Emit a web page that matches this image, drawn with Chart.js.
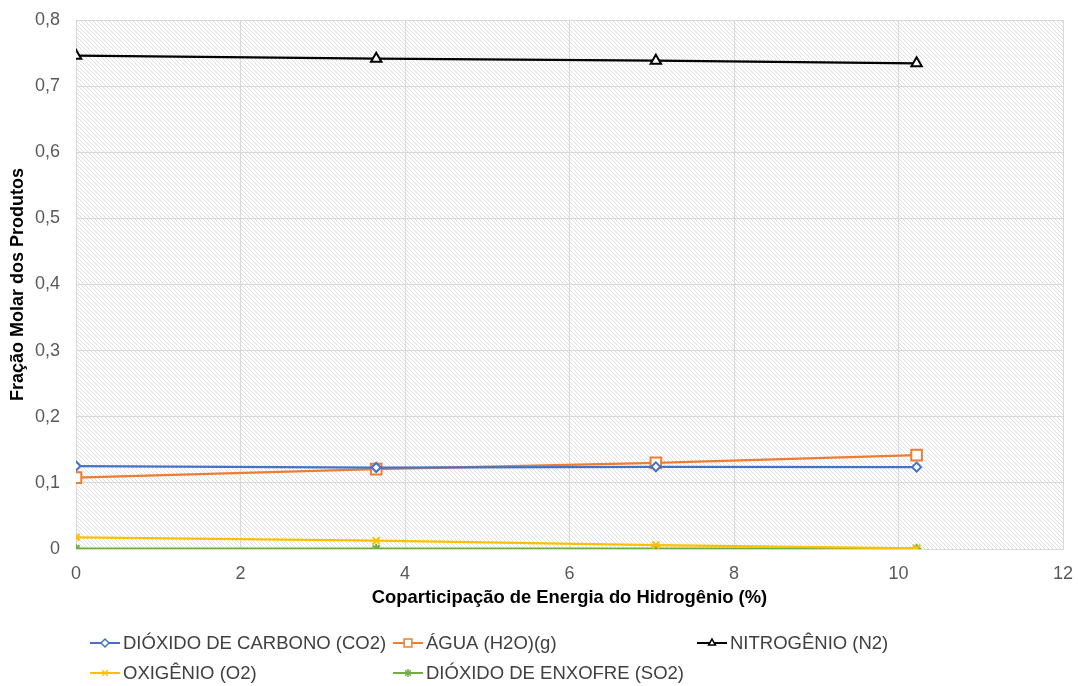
<!DOCTYPE html>
<html>
<head>
<meta charset="utf-8">
<style>
  html, body { margin: 0; padding: 0; background: #ffffff; }
  #wrap { width: 1078px; height: 686px; position: relative; }
</style>
<script src="https://cdn.jsdelivr.net/npm/chart.js@4/dist/chart.umd.min.js"></script>
</head>
<body>
<div id="wrap"><canvas id="chart" width="1078" height="686"></canvas></div>
<script>
// Hydrogen energy share (%) for each simulated case
const energyShare = [0, 3.65, 7.05, 10.22];

// Molar fraction of each combustion product
const seriesNames = [
  'DIÓXIDO DE CARBONO (CO2)',
  'ÁGUA (H2O)(g)',
  'NITROGÊNIO (N2)',
  'OXIGÊNIO (O2)',
  'DIÓXIDO DE ENXOFRE (SO2)'
];
const co2 = [0.1255, 0.1232, 0.1243, 0.1238];
const h2o = [0.1080, 0.1208, 0.1302, 0.1420];
const n2  = [0.7460, 0.7415, 0.7385, 0.7345];
const o2  = [0.0177, 0.0126, 0.0060, 0.0010];
const so2 = [0.0004, 0.0004, 0.0004, 0.0004];

const xTicks = [0, 2, 4, 6, 8, 10, 12];
const yTicks = [0, 0.1, 0.2, 0.3, 0.4, 0.5, 0.6, 0.7, 0.8];

const FONT = "'Liberation Sans', Arial, sans-serif";

function toPoints(values) {
  return values.map((v, i) => ({ x: energyShare[i], y: v }));
}

// light diagonal hatching for the plot background
function makeHatch(ctx) {
  const tile = document.createElement('canvas');
  tile.width = 4; tile.height = 4;
  const t = tile.getContext('2d');
  t.fillStyle = '#ffffff';
  t.fillRect(0, 0, 4, 4);
  t.strokeStyle = '#dedede';
  t.lineWidth = 1;
  t.beginPath();
  t.moveTo(-1, -1); t.lineTo(5, 5);
  t.moveTo(-1, 3); t.lineTo(1, 5);
  t.moveTo(3, -1); t.lineTo(5, 1);
  t.stroke();
  return ctx.createPattern(tile, 'repeat');
}

const hatchBackground = {
  id: 'hatchBackground',
  beforeDraw(chart) {
    const { ctx, chartArea: a } = chart;
    ctx.save();
    ctx.fillStyle = makeHatch(ctx);
    ctx.fillRect(a.left, a.top, a.right - a.left, a.bottom - a.top);
    ctx.restore();
  }
};

// legend laid out on a fixed grid: three columns, two rows
const gridLegend = {
  id: 'gridLegend',
  afterDraw(chart) {
    const { ctx } = chart;
    const cols = [90, 393, 697];
    const rows = [643, 673];
    const lineLen = 30;
    ctx.save();
    ctx.font = '18.5px ' + FONT;
    ctx.textBaseline = 'middle';
    ctx.textAlign = 'left';
    chart.data.datasets.forEach((ds, i) => {
      const x = cols[i % 3];
      const y = rows[Math.floor(i / 3)];
      ctx.strokeStyle = ds.borderColor;
      ctx.lineWidth = 2;
      ctx.beginPath();
      ctx.moveTo(x, y); ctx.lineTo(x + lineLen, y);
      ctx.stroke();
      ctx.fillStyle = '#ffffff';
      ctx.strokeStyle = ds.borderColor;
      ctx.lineWidth = 1.5;
      Chart.helpers.drawPoint(ctx, {
        pointStyle: ds.pointStyle,
        radius: ds.pointStyle === 'rect' ? 5.5 : 4,
        borderWidth: 1.5,
        rotation: 0
      }, x + lineLen / 2, y);
      ctx.fillStyle = '#404040';
      ctx.fillText(ds.label, x + lineLen + 3, y + 1);
    });
    ctx.restore();
  }
};

function makeSeries(label, values, color, style, radius) {
  return {
    label,
    data: toPoints(values),
    borderColor: color,
    backgroundColor: '#ffffff',
    pointBackgroundColor: '#ffffff',
    pointBorderColor: color,
    pointStyle: style,
    pointRadius: radius,
    pointBorderWidth: 2,
    borderWidth: 2.25,
    tension: 0,
    fill: false
  };
}

const datasets = [
  makeSeries(seriesNames[0], co2, '#4472C4', 'rectRot', 4.5),
  makeSeries(seriesNames[1], h2o, '#ED7D31', 'rect', 7.5),
  makeSeries(seriesNames[2], n2, '#000000', 'triangle', 6),
  makeSeries(seriesNames[3], o2, '#FFC000', 'crossRot', 5),
  makeSeries(seriesNames[4], so2, '#70AD47', 'star', 5)
];

new Chart(document.getElementById('chart'), {
  type: 'line',
  data: { datasets },
  options: {
    responsive: false,
    animation: false,
    layout: { padding: { top: 20, right: 15, bottom: 77, left: 0 } },
    plugins: {
      legend: { display: false },
      tooltip: { enabled: false }
    },
    scales: {
      x: {
        type: 'linear',
        min: 0,
        max: 12,
        afterBuildTicks(scale) { scale.ticks = xTicks.map(v => ({ value: v })); },
        afterFit(scale) {
          scale.height = 60;
          scale.paddingLeft = 0;
          scale.paddingRight = 0;
        },
        grid: { color: '#d9d9d9', lineWidth: 1, drawTicks: false },
        border: { color: '#d9d9d9' },
        ticks: {
          padding: 14,
          color: '#595959',
          font: { family: FONT, size: 18 },
          callback: v => String(v)
        },
        title: {
          display: true,
          text: 'Coparticipação de Energia do Hidrogênio (%)',
          color: '#000000',
          font: { family: FONT, size: 18.4, weight: 'bold' },
          padding: { top: 0, bottom: 0 }
        }
      },
      y: {
        type: 'linear',
        min: 0,
        max: 0.8,
        afterBuildTicks(scale) { scale.ticks = yTicks.map(v => ({ value: v })); },
        afterFit(scale) {
          scale.width = 76;
          scale.paddingTop = 0;
          scale.paddingBottom = 0;
        },
        grid: { color: '#d9d9d9', lineWidth: 1, drawTicks: false },
        border: { color: '#d9d9d9' },
        ticks: {
          padding: 16,
          color: '#595959',
          font: { family: FONT, size: 18 },
          callback: v => (v === 0 ? '0' : v.toFixed(1).replace('.', ','))
        },
        title: {
          display: true,
          text: 'Fração Molar dos Produtos',
          color: '#000000',
          font: { family: FONT, size: 18, weight: 'bold' },
          padding: { top: 7, bottom: 0 }
        }
      }
    }
  },
  plugins: [hatchBackground, gridLegend]
});
</script>
</body>
</html>
